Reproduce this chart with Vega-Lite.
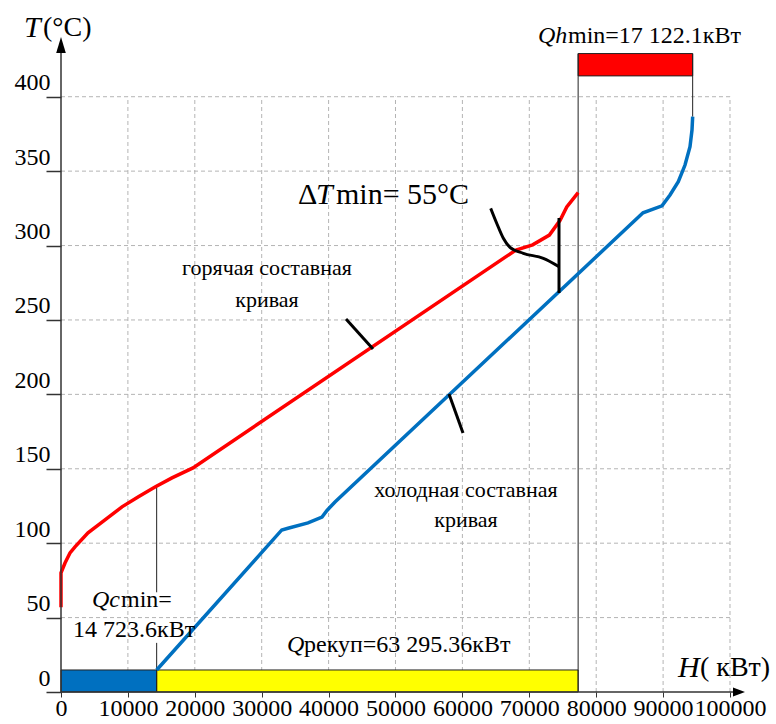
{
 "$schema": "https://vega.github.io/schema/vega-lite/v6.json",
 "width": 715, "height": 692,
 "autosize": {"type": "none"},
 "padding": {"left": 61, "top": 0, "right": 0, "bottom": 32},
 "background": "white",
 "config": {"view": {"stroke": null}, "text": {"font": "Liberation Serif", "color": "black"}},
 "layer": [
  {
   "data": {"values": [{"T": 50}, {"T": 100}, {"T": 150}, {"T": 200}, {"T": 250}, {"T": 300}, {"T": 350}, {"T": 400}]},
   "mark": {"type": "rule", "stroke": "#b4b4b4", "strokeDash": [4, 3], "strokeWidth": 1},
   "encoding": {
    "y": {"field": "T", "type": "quantitative", "title": null, "scale": {"domain": [0, 465], "nice": false, "zero": false},
     "axis": {"title": null, "values": [0, 50, 100, 150, 200, 250, 300, 350, 400], "format": "d", "grid": false, "domain": false,
      "tickSize": 15, "tickColor": "#333", "tickWidth": 1.5, "labelPadding": -4, "labelOffset": -14,
      "labelFont": "Liberation Serif", "labelFontSize": 24, "labelColor": "black"}},
    "x": {"datum": 0, "type": "quantitative"},
    "x2": {"datum": 100000}
   }
  },
  {
   "data": {"values": [{"H": 10000}, {"H": 20000}, {"H": 30000}, {"H": 40000}, {"H": 50000}, {"H": 60000}, {"H": 70000}, {"H": 80000}, {"H": 90000}, {"H": 100000}]},
   "mark": {"type": "rule", "stroke": "#b4b4b4", "strokeDash": [4, 3], "strokeWidth": 1},
   "encoding": {
    "x": {"field": "H", "type": "quantitative", "title": null, "scale": {"domain": [0, 106876], "nice": false, "zero": false},
     "axis": {"title": null, "values": [0, 10000, 20000, 30000, 40000, 50000, 60000, 70000, 80000, 90000, 100000], "format": "d",
      "grid": false, "domain": false, "tickSize": 5, "tickColor": "#333", "labelPadding": -1, "labelFlush": false, "labelOverlap": false,
      "labelFont": "Liberation Serif", "labelFontSize": 24, "labelColor": "black"}},
    "y": {"datum": 0, "type": "quantitative"},
    "y2": {"datum": 400}
   }
  },
  {
   "data": {"values": [{"H1": 0, "H2": 14300, "T1": 0, "T2": 14.8}]},
   "mark": {"type": "rect", "fill": "#0070c0", "stroke": "#222", "strokeWidth": 1},
   "encoding": {"x": {"field": "H1", "type": "quantitative", "title": null}, "x2": {"field": "H2"},
    "y": {"field": "T1", "type": "quantitative", "title": null}, "y2": {"field": "T2"}}
  },
  {
   "data": {"values": [{"H1": 14300, "H2": 77300, "T1": 0, "T2": 14.8}]},
   "mark": {"type": "rect", "fill": "#ffff00", "stroke": "#222", "strokeWidth": 1},
   "encoding": {"x": {"field": "H1", "type": "quantitative", "title": null}, "x2": {"field": "H2"},
    "y": {"field": "T1", "type": "quantitative", "title": null}, "y2": {"field": "T2"}}
  },
  {
   "data": {"values": [{"H1": 77300, "H2": 94420, "T1": 414, "T2": 429}]},
   "mark": {"type": "rect", "fill": "#ff0000", "stroke": "#222", "strokeWidth": 1},
   "encoding": {"x": {"field": "H1", "type": "quantitative", "title": null}, "x2": {"field": "H2"},
    "y": {"field": "T1", "type": "quantitative", "title": null}, "y2": {"field": "T2"}}
  },
  {
   "data": {"values": [{"H": 77300, "T1": 0, "T2": 429}, {"H": 94420, "T1": 386.6, "T2": 429}, {"H": 14300, "T1": 67, "T2": 137.7}, {"H": 14300, "T1": 0, "T2": 33}]},
   "mark": {"type": "rule", "stroke": "#222", "strokeWidth": 1},
   "encoding": {"x": {"field": "H", "type": "quantitative", "title": null},
    "y": {"field": "T1", "type": "quantitative", "title": null}, "y2": {"field": "T2"}}
  },
  {
   "data": {"values": [
    {"i": 0, "H": 0, "T": 57}, {"i": 1, "H": 0, "T": 80}, {"i": 2, "H": 598, "T": 86.7}, {"i": 3, "H": 1345, "T": 93.4},
    {"i": 4, "H": 2093, "T": 97.5}, {"i": 5, "H": 4036, "T": 106.9}, {"i": 6, "H": 6577, "T": 115.6}, {"i": 7, "H": 9118, "T": 124.4},
    {"i": 8, "H": 11510, "T": 131.1}, {"i": 9, "H": 14051, "T": 137.8}, {"i": 10, "H": 16592, "T": 143.9}, {"i": 11, "H": 19731, "T": 150.6},
    {"i": 12, "H": 68000, "T": 297}, {"i": 13, "H": 70500, "T": 300.5}, {"i": 14, "H": 73000, "T": 307}, {"i": 15, "H": 74600, "T": 317},
    {"i": 16, "H": 75600, "T": 326}, {"i": 17, "H": 77300, "T": 335.5}]},
   "mark": {"type": "line", "stroke": "#ff0000", "strokeWidth": 3.5},
   "encoding": {"x": {"field": "H", "type": "quantitative", "title": null},
    "y": {"field": "T", "type": "quantitative", "title": null}, "order": {"field": "i"}}
  },
  {
   "data": {"values": [
    {"i": 0, "H": 14300, "T": 14.8}, {"i": 1, "H": 33000, "T": 108.9}, {"i": 2, "H": 33930, "T": 110}, {"i": 3, "H": 36921, "T": 113.6},
    {"i": 4, "H": 39013, "T": 117.6}, {"i": 5, "H": 39761, "T": 122}, {"i": 6, "H": 40957, "T": 127.7}, {"i": 7, "H": 87000, "T": 322},
    {"i": 8, "H": 89836, "T": 326.7}, {"i": 9, "H": 91031, "T": 334}, {"i": 10, "H": 92272, "T": 342.9}, {"i": 11, "H": 93274, "T": 354.1},
    {"i": 12, "H": 94021, "T": 366.4}, {"i": 13, "H": 94320, "T": 377.6}, {"i": 14, "H": 94420, "T": 386.6}]},
   "mark": {"type": "line", "stroke": "#0070c0", "strokeWidth": 3.5},
   "encoding": {"x": {"field": "H", "type": "quantitative", "title": null},
    "y": {"field": "T", "type": "quantitative", "title": null}, "order": {"field": "i"}}
  },
  {
   "data": {"values": [
    {"H1": 42601, "T1": 250.6, "H2": 46637, "T2": 230.5},
    {"H1": 57997, "T1": 200.2, "H2": 60090, "T2": 174.0},
    {"H1": 74440, "T1": 318.5, "H2": 74440, "T2": 268.1}]},
   "mark": {"type": "rule", "stroke": "black", "strokeWidth": 3},
   "encoding": {"x": {"field": "H1", "type": "quantitative", "title": null}, "x2": {"field": "H2"},
    "y": {"field": "T1", "type": "quantitative", "title": null}, "y2": {"field": "T2"}}
  },
  {
   "data": {"values": [
    {"H": 64230, "T": 325}, {"H": 65127, "T": 315}, {"H": 66119, "T": 304.9}, {"H": 67115, "T": 298.8},
    {"H": 69108, "T": 294.8}, {"H": 72098, "T": 291.4}, {"H": 74440, "T": 285.8}]},
   "mark": {"type": "line", "stroke": "black", "strokeWidth": 3, "interpolate": "monotone"},
   "encoding": {"x": {"field": "H", "type": "quantitative", "title": null},
    "y": {"field": "T", "type": "quantitative", "title": null}}
  },
  {
   "data": {"values": [{"H1": 0, "H2": 0, "T1": 0, "T2": 436}, {"H1": 0, "H2": 101000, "T1": 0, "T2": 0}]},
   "mark": {"type": "rule", "stroke": "#333", "strokeWidth": 1.5},
   "encoding": {"x": {"field": "H1", "type": "quantitative", "title": null}, "x2": {"field": "H2"},
    "y": {"field": "T1", "type": "quantitative", "title": null}, "y2": {"field": "T2"}}
  },
  {
   "data": {"values": [{"H": 0, "T": 434.8}]},
   "mark": {"type": "point", "shape": "M0,-1L-0.6,1L0.6,1Z", "size": 256, "filled": true, "color": "black", "opacity": 1},
   "encoding": {"x": {"field": "H", "type": "quantitative", "title": null},
    "y": {"field": "T", "type": "quantitative", "title": null}}
  },
  {
   "data": {"values": [{"H": 101345, "T": 0}]},
   "mark": {"type": "point", "shape": "M1,0L-1,-0.75L-1,0.75Z", "size": 144, "filled": true, "color": "black", "opacity": 1},
   "encoding": {"x": {"field": "H", "type": "quantitative", "title": null},
    "y": {"field": "T", "type": "quantitative", "title": null}}
  },
  {
   "data": {"values": [{"H": -5531, "T": 446.2, "s": "T"}, {"H": 92227, "T": 16.1, "s": "H"}]},
   "mark": {"type": "text", "align": "left", "baseline": "middle", "fontSize": 30, "fontStyle": "italic"},
   "encoding": {"x": {"field": "H", "type": "quantitative", "title": null},
    "y": {"field": "T", "type": "quantitative", "title": null}, "text": {"field": "s"}}
  },
  {
   "data": {"values": [{"H": -2691, "T": 446.2, "s": "(°C)"}, {"H": 95516, "T": 16.1, "s": "( кВт)"}]},
   "mark": {"type": "text", "align": "left", "baseline": "middle", "fontSize": 28},
   "encoding": {"x": {"field": "H", "type": "quantitative", "title": null},
    "y": {"field": "T", "type": "quantitative", "title": null}, "text": {"field": "s"}}
  },
  {
   "data": {"values": [{"H": 38117, "T": 334, "s": "T"}]},
   "mark": {"type": "text", "align": "left", "baseline": "middle", "fontSize": 30, "fontStyle": "italic"},
   "encoding": {"x": {"field": "H", "type": "quantitative", "title": null},
    "y": {"field": "T", "type": "quantitative", "title": null}, "text": {"field": "s"}}
  },
  {
   "data": {"values": [{"H": 35426, "T": 334, "s": "Δ"}, {"H": 41106, "T": 334, "s": "min= 55°C"}]},
   "mark": {"type": "text", "align": "left", "baseline": "middle", "fontSize": 30},
   "encoding": {"x": {"field": "H", "type": "quantitative", "title": null},
    "y": {"field": "T", "type": "quantitative", "title": null}, "text": {"field": "s"}}
  },
  {
   "data": {"values": [
    {"H": 30792, "T": 284.9, "s": "горячая составная"}, {"H": 30792, "T": 263.4, "s": "кривая"},
    {"H": 60538, "T": 135.7, "s": "холодная составная"}, {"H": 60538, "T": 115.6, "s": "кривая"}]},
   "mark": {"type": "text", "align": "center", "baseline": "middle", "fontSize": 22},
   "encoding": {"x": {"field": "H", "type": "quantitative", "title": null},
    "y": {"field": "T", "type": "quantitative", "title": null}, "text": {"field": "s"}}
  },
  {
   "data": {"values": [{"H": 4634, "T": 61.8, "s": "Qc"}, {"H": 33782, "T": 31.6, "s": "Q"}, {"H": 71300, "T": 440.8, "s": "Qh"}]},
   "mark": {"type": "text", "align": "left", "baseline": "middle", "fontSize": 24, "fontStyle": "italic"},
   "encoding": {"x": {"field": "H", "type": "quantitative", "title": null},
    "y": {"field": "T", "type": "quantitative", "title": null}, "text": {"field": "s"}}
  },
  {
   "data": {"values": [
    {"H": 8969, "T": 61.8, "s": "min="}, {"H": 1794, "T": 41.7, "s": "14 723.6кВт"},
    {"H": 36323, "T": 31.6, "s": "рекуп=63 295.36кВт"}, {"H": 75785, "T": 440.8, "s": "min=17 122.1кВт"}]},
   "mark": {"type": "text", "align": "left", "baseline": "middle", "fontSize": 24},
   "encoding": {"x": {"field": "H", "type": "quantitative", "title": null},
    "y": {"field": "T", "type": "quantitative", "title": null}, "text": {"field": "s"}}
  }
 ]
}
